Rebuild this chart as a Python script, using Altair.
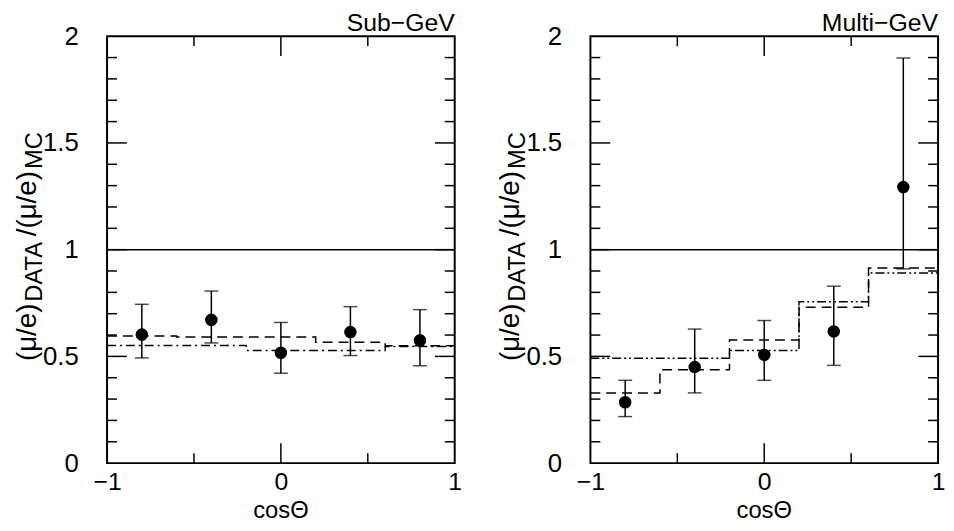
import altair as alt
import pandas as pd

FONT = "Liberation Sans"

# ---- data ----
x_centers = [-0.8, -0.4, 0.0, 0.4, 0.8]
bin_edges = [-1.0, -0.6, -0.2, 0.2, 0.6, 1.0]

sub_ratio = [0.602, 0.671, 0.517, 0.614, 0.575]
sub_lo = [0.493, 0.563, 0.421, 0.504, 0.456]
sub_hi = [0.744, 0.806, 0.659, 0.733, 0.719]
sub_dashed = [0.595, 0.591, 0.591, 0.566, 0.550]
sub_dashdot = [0.551, 0.551, 0.528, 0.528, 0.546]

multi_ratio = [0.285, 0.450, 0.507, 0.617, 1.293]
multi_lo = [0.218, 0.329, 0.388, 0.458, 0.910]
multi_hi = [0.388, 0.628, 0.668, 0.829, 1.898]
multi_dashed = [0.328, 0.437, 0.577, 0.730, 0.914]
multi_dashdot = [0.491, 0.491, 0.528, 0.756, 0.891]

y_major = [0.5, 1.0, 1.5]
y_minor = [0.1, 0.2, 0.3, 0.4, 0.6, 0.7, 0.8, 0.9, 1.1, 1.2, 1.3, 1.4, 1.6, 1.7, 1.8, 1.9]
x_major = [0.0]
x_minor = [-0.5, 0.5]
y_labels = [0, 0.5, 1, 1.5, 2]
x_labels = [-1, 0, 1]
ref_line = [1.0]

W, H = 351, 431
MAJ, MIN = 20, 10

XS = alt.Scale(domain=[-1, 1], nice=False, zero=False)
YS = alt.Scale(domain=[0, 2], nice=False, zero=False)
X_AXIS = alt.Axis(values=x_labels, format="~g", labelFlush=False, labelPadding=7,
                  labelFontSize=25, title=None, labelOverlap=False)
Y_AXIS = alt.Axis(values=y_labels, format="~g", labelFlush=False, labelPadding=29,
                  labelFontSize=26, title=None, labelOverlap=False)


def X(f):
    return alt.X(f, scale=XS, axis=X_AXIS)


def Y(f):
    return alt.Y(f, scale=YS, axis=Y_AXIS)


def panel(title, ratio, lo, hi, dashed, dashdot, dd_pattern):
    pts = pd.DataFrame({"x": x_centers, "r": ratio, "lo": lo, "hi": hi})
    steps = pd.DataFrame({"x": bin_edges,
                          "d": dashed + [dashed[-1]],
                          "dd": dashdot + [dashdot[-1]]})

    points = alt.Chart(pts).mark_circle(size=160, color="black", opacity=1).encode(
        x=X("x:Q"), y=Y("r:Q"))
    bars = alt.Chart(pts).mark_rule(color="black", strokeWidth=1.5).encode(
        x=X("x:Q"), y=Y("lo:Q"), y2="hi:Q")
    cap_lo = alt.Chart(pts).mark_tick(orient="horizontal", size=14, thickness=1.5, color="black").encode(
        x=X("x:Q"), y=Y("lo:Q"))
    cap_hi = alt.Chart(pts).mark_tick(orient="horizontal", size=14, thickness=1.5, color="black").encode(
        x=X("x:Q"), y=Y("hi:Q"))

    dash_line = alt.Chart(steps).mark_line(interpolate="step-after", color="black",
                                           strokeWidth=1.5, strokeDash=[10, 6]).encode(
        x=X("x:Q"), y=Y("d:Q"))
    dd_line = alt.Chart(steps).mark_line(interpolate="step-after", color="black",
                                         strokeWidth=1.5, strokeDash=dd_pattern).encode(
        x=X("x:Q"), y=Y("dd:Q"))

    hline = alt.Chart(pd.DataFrame({"v": ref_line})).mark_rule(color="black", strokeWidth=1.5).encode(
        y=Y("v:Q"), x=alt.value(0), x2=alt.value(W))

    def yticks(vals, ln):
        d = pd.DataFrame({"t": vals})
        l = alt.Chart(d).mark_rule(color="black", strokeWidth=1.5).encode(
            y=Y("t:Q"), x=alt.value(0), x2=alt.value(ln))
        r = alt.Chart(d).mark_rule(color="black", strokeWidth=1.5).encode(
            y=Y("t:Q"), x=alt.value(W - ln), x2=alt.value(W))
        return [l, r]

    def xticks(vals, ln):
        d = pd.DataFrame({"t": vals})
        b = alt.Chart(d).mark_rule(color="black", strokeWidth=1.5).encode(
            x=X("t:Q"), y=alt.value(H - ln), y2=alt.value(H))
        t = alt.Chart(d).mark_rule(color="black", strokeWidth=1.5).encode(
            x=X("t:Q"), y=alt.value(0), y2=alt.value(ln))
        return [b, t]

    one = pd.DataFrame({"k": [0]})

    def label(txt, size, xpos, ypos, angle=0, align="left"):
        return alt.Chart(one).mark_text(text=txt, angle=angle, align=align, baseline="alphabetic",
                                        font=FONT, fontSize=size, color="black").encode(
            x=alt.value(xpos), y=alt.value(ypos))

    titles = [
        label("(μ/e)", 28, -72, 328, 270),
        label("DATA", 24, -66, 268, 270),
        label("/(μ/e)", 28, -72, 202, 270),
        label("MC", 24, -66, 134, 270),
        label(title, 25, W, -5, 0, "right"),
        label("cosΘ", 24, W / 2, H + 55, 0, "center"),
    ]

    layers = ([points, hline, dash_line, dd_line, bars, cap_lo, cap_hi]
              + yticks(y_major, MAJ) + yticks(y_minor, MIN)
              + xticks(x_major, MAJ) + xticks(x_minor, MIN) + titles)
    return alt.layer(*layers).properties(width=W, height=H)


left = panel("Sub−GeV", sub_ratio, sub_lo, sub_hi, sub_dashed, sub_dashdot, [9, 4, 2, 4])
right = panel("Multi−GeV", multi_ratio, multi_lo, multi_hi, multi_dashed, multi_dashdot,
              [9, 3, 2, 3, 2, 3])

chart = alt.hconcat(left, right, spacing=137, bounds="flush").properties(
    padding={"left": 5, "top": 0, "right": 0, "bottom": 0}
).configure_view(stroke="black", strokeWidth=2).configure_axis(
    grid=False, domain=False, ticks=False,
    labelFont=FONT, labelColor="black",
)

chart.save("out.html", embed_options={"renderer": "svg", "actions": False})
